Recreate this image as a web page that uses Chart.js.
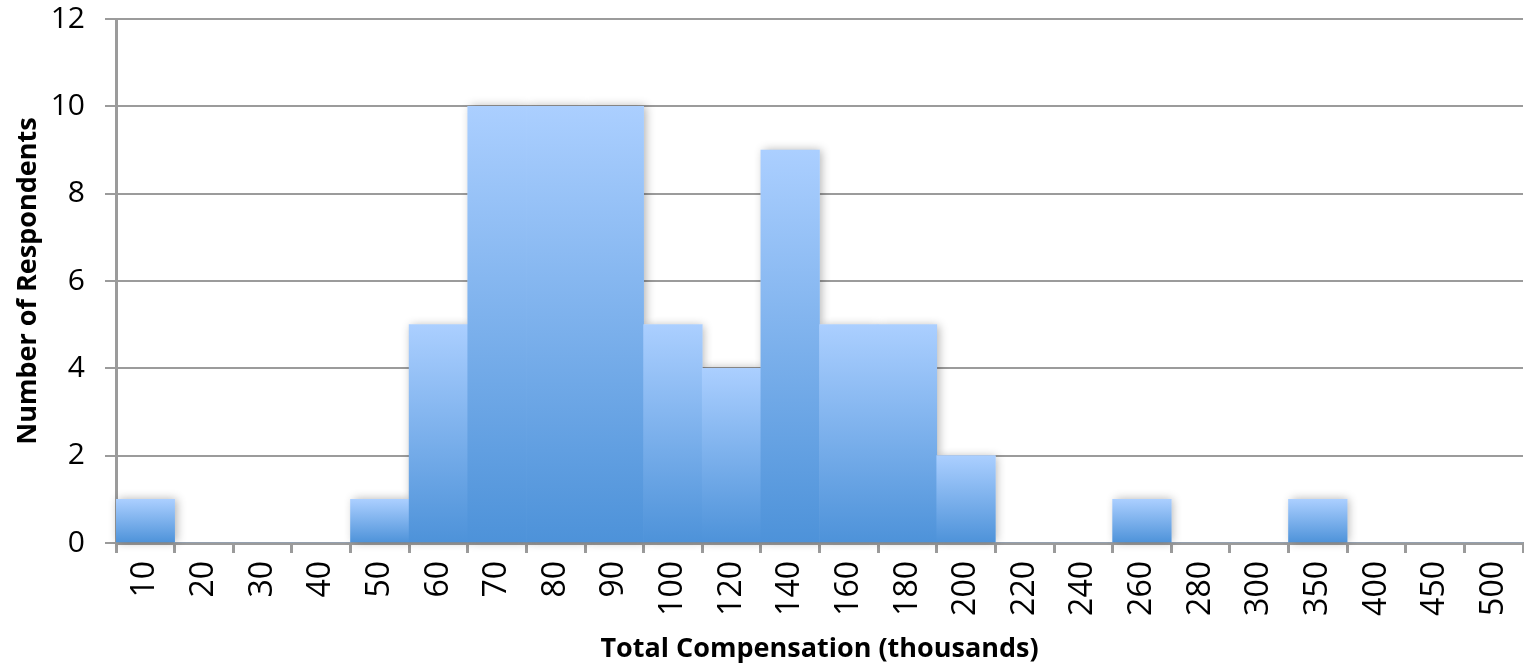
<!DOCTYPE html>
<html>
<head>
<meta charset="utf-8">
<script src="https://cdn.jsdelivr.net/npm/chart.js@4"></script>
<style>
  html, body { margin: 0; padding: 0; background: #fff; }
  #wrap { width: 1524px; height: 668px; position: relative; }
</style>
</head>
<body>
<div id="wrap"><canvas id="histChart"></canvas></div>
<script>
const compBins = ['10','20','30','40','50','60','70','80','90','100','120','140','160','180','200','220','240','260','280','300','350','400','450','500'];
const respondents = [1,0,0,0,1,5,10,10,10,5,4,9,5,5,2,0,0,1,0,0,1,0,0,0];
const yTicks = [0,2,4,6,8,10,12];

const gridGray = '#9b9b9b';
const fontFam = '"Open Sans", "DejaVu Sans", sans-serif';

function barGradient(c) {
    const chart = c.chart;
    const y = chart.scales.y;
    if (!y || c.raw == null) return '#7fb0ec';
    const top = y.getPixelForValue(c.raw);
    const base = y.getPixelForValue(0);
    if (!isFinite(top) || !isFinite(base) || top === base) return '#7fb0ec';
    const g = chart.ctx.createLinearGradient(0, top, 0, base);
    g.addColorStop(0, '#abcfff');
    g.addColorStop(1, '#4d92d9');
    return g;
}

// soft shadow: draw it once under all bars so neighbours stay seamless
const barShadow = {
    id: 'barShadow',
    beforeDatasetsDraw(chart) {
        const ctx = chart.ctx;
        const meta = chart.getDatasetMeta(0);
        ctx.save();
        ctx.shadowColor = 'rgba(0,0,0,0.3)';
        ctx.shadowBlur = 9;
        ctx.shadowOffsetX = 2;
        ctx.fillStyle = '#ffffff';
        meta.data.forEach(bar => {
            const p = bar.getProps(['x', 'y', 'base', 'width']);
            if (Math.abs(p.base - p.y) < 1) return;
            ctx.fillRect(p.x - p.width / 2, p.y, p.width, p.base - p.y);
        });
        ctx.restore();
    }
};

const ctx = document.getElementById('histChart').getContext('2d');
new Chart(ctx, {
    type: 'bar',
    data: {
        labels: compBins,
        datasets: [{
            data: respondents,
            backgroundColor: barGradient,
            borderWidth: 0,
            barPercentage: 1,
            categoryPercentage: 1
        }]
    },
    options: {
        responsive: true,
        maintainAspectRatio: false,
        animation: false,
        layout: { padding: { top: 19, right: 1, left: 0, bottom: 0 } },
        plugins: { legend: { display: false }, tooltip: { enabled: false } },
        scales: {
            y: {
                min: 0, max: 12,
                afterFit: s => { s.width = 116; s.paddingTop = 0; s.paddingBottom = 0; },
                afterBuildTicks: s => { s.ticks = yTicks.map(v => ({ value: v })); },
                grid: { color: gridGray, lineWidth: 2, tickLength: 11 },
                border: { color: gridGray, width: 3 },
                ticks: { color: '#000', font: { family: fontFam, size: 30 }, padding: 20 },
                title: {
                    display: true,
                    text: 'Number of Respondents',
                    color: '#000',
                    font: { family: fontFam, size: 27, weight: 'bold' },
                    padding: { top: 12, bottom: 0 }
                }
            },
            x: {
                afterFit: s => { s.height = 125; s.paddingLeft = 0; s.paddingRight = 0; },
                grid: { display: true, drawOnChartArea: false, offset: true, color: gridGray, lineWidth: 3, tickLength: 10 },
                border: { color: gridGray, width: 3 },
                ticks: { color: '#000', font: { family: fontFam, size: 32 }, minRotation: 90, maxRotation: 90, padding: 8, autoSkip: false },
                title: {
                    display: true,
                    text: 'Total Compensation (thousands)',
                    color: '#000',
                    font: { family: fontFam, size: 27, weight: 'bold' },
                    padding: { top: 0, bottom: 2 }
                }
            }
        }
    },
    plugins: [barShadow]
});
</script>
</body>
</html>
